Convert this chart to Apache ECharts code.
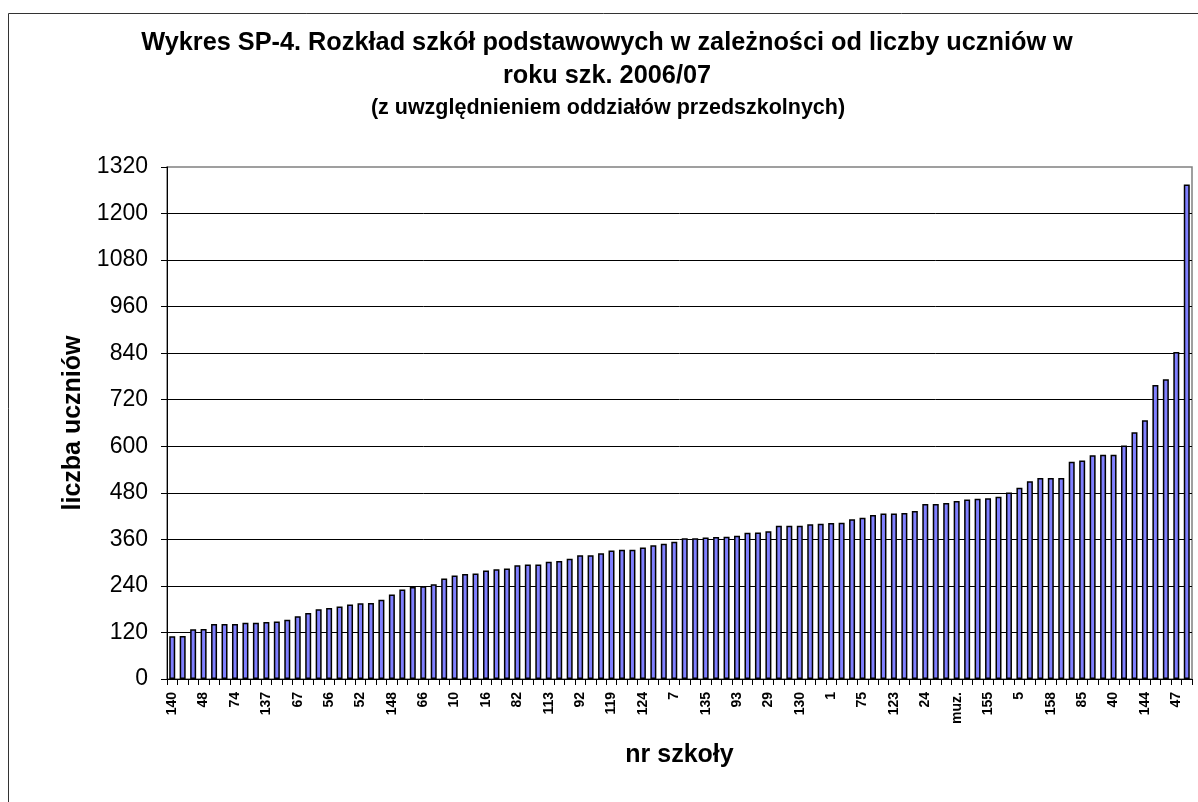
<!DOCTYPE html>
<html lang="pl">
<head>
<meta charset="UTF-8">
<title>Wykres SP-4</title>
<script src="https://cdn.jsdelivr.net/npm/echarts@6/dist/echarts.min.js"></script>
<style>
html, body { margin: 0; padding: 0; background: #fff; }
#chart { width: 1198px; height: 802px; }
</style>
</head>
<body>
<div id="chart"></div>
<script>
// school numbers, only every 3rd one is printed on the axis
const schools = [
'140', '', '', '48', '', '', '74', '', '', '137', '', '', '67', '', '', '56', '', '', '52', '', '',
'148', '', '', '66', '', '', '10', '', '', '16', '', '', '82', '', '', '113', '', '', '92', '', '',
'119', '', '', '124', '', '', '7', '', '', '135', '', '', '93', '', '', '29', '', '', '130', '', '',
'1', '', '', '75', '', '', '123', '', '', '24', '', '', 'muz.', '', '', '155', '', '', '5', '', '',
'158', '', '', '85', '', '', '40', '', '', '144', '', '', '47', ''
];

// number of pupils per school
const pupils = [
110, 111, 128, 129, 142, 142, 142, 145, 145, 147, 148, 153, 162, 170, 180, 183, 187, 192, 195, 196,
204, 218, 231, 237, 239, 244, 259, 267, 271, 272, 280, 283, 285, 293, 295, 295, 302, 304, 310, 319,
319, 324, 331, 333, 333, 339, 345, 349, 354, 363, 363, 365, 366, 367, 369, 377, 378, 381, 395, 395,
395, 399, 400, 402, 403, 412, 416, 423, 427, 427, 428, 433, 451, 451, 454, 459, 463, 465, 466, 470,
481, 493, 510, 518, 518, 518, 560, 563, 577, 578, 578, 602, 636, 667, 758, 773, 843, 1275
];

const titleLines = [
'Wykres SP-4. Rozkład szkół podstawowych w zależności od liczby uczniów w',
'roku szk. 2006/07'
];
const subTitle = '(z uwzględnieniem oddziałów przedszkolnych)';

const font = '"Liberation Sans", Arial, sans-serif';

const chart = echarts.init(document.getElementById('chart'));
chart.setOption({
  animation: false,
  backgroundColor: '#fff',
  graphic: [
    {
      type: 'rect',
      shape: { x: 8.5, y: 13.5, width: 1300, height: 900 },
      style: { fill: 'none', stroke: '#333', lineWidth: 1 },
      silent: true
    },
    {
      type: 'text', x: 607, y: 43,
      style: { text: titleLines[0], font: 'bold 25.3px ' + font, fill: '#000', textAlign: 'center', textVerticalAlign: 'middle' }
    },
    {
      type: 'text', x: 607, y: 76,
      style: { text: titleLines[1], font: 'bold 25.3px ' + font, fill: '#000', textAlign: 'center', textVerticalAlign: 'middle' }
    },
    {
      type: 'text', x: 608, y: 108,
      style: { text: subTitle, font: 'bold 21.5px ' + font, fill: '#000', textAlign: 'center', textVerticalAlign: 'middle' }
    }
  ],
  grid: {
    left: 167, right: 6, top: 167, bottom: 123,
    show: true, borderColor: '#808080', borderWidth: 1.5, backgroundColor: 'transparent'
  },
  xAxis: {
    type: 'category',
    data: schools,
    boundaryGap: true,
    axisLine: { lineStyle: { color: '#000', width: 1 } },
    axisTick: { show: true, interval: 0, length: 6, lineStyle: { color: '#000' } },
    axisLabel: {
      interval: 2, rotate: 90, margin: 13,
      fontSize: 14, fontWeight: 'bold', color: '#000', fontFamily: font
    },
    splitLine: { show: false },
    name: 'nr szkoły',
    nameLocation: 'middle',
    nameGap: 64,
    nameTextStyle: { fontSize: 25, fontWeight: 'bold', color: '#000', fontFamily: font }
  },
  yAxis: {
    type: 'value',
    min: 0, max: 1320, interval: 120,
    axisLine: { show: true, lineStyle: { color: '#000', width: 1 } },
    axisTick: { show: true, length: 6, lineStyle: { color: '#000' } },
    axisLabel: { fontSize: 23, color: '#000', margin: 19, fontFamily: font, formatter: v => String(v) },
    splitLine: { show: true, showMinLine: false, showMaxLine: false, lineStyle: { color: '#000', width: 1 } },
    name: 'liczba uczniów',
    nameLocation: 'middle',
    nameGap: 80,
    nameRotate: 90,
    nameTextStyle: { fontSize: 25, fontWeight: 'bold', color: '#000', fontFamily: font }
  },
  series: [{
    type: 'bar',
    data: pupils,
    barWidth: 6,
    silent: true,
    itemStyle: { color: '#8080ff', borderColor: '#000', borderWidth: 1.5 }
  }]
});
</script>
</body>
</html>
